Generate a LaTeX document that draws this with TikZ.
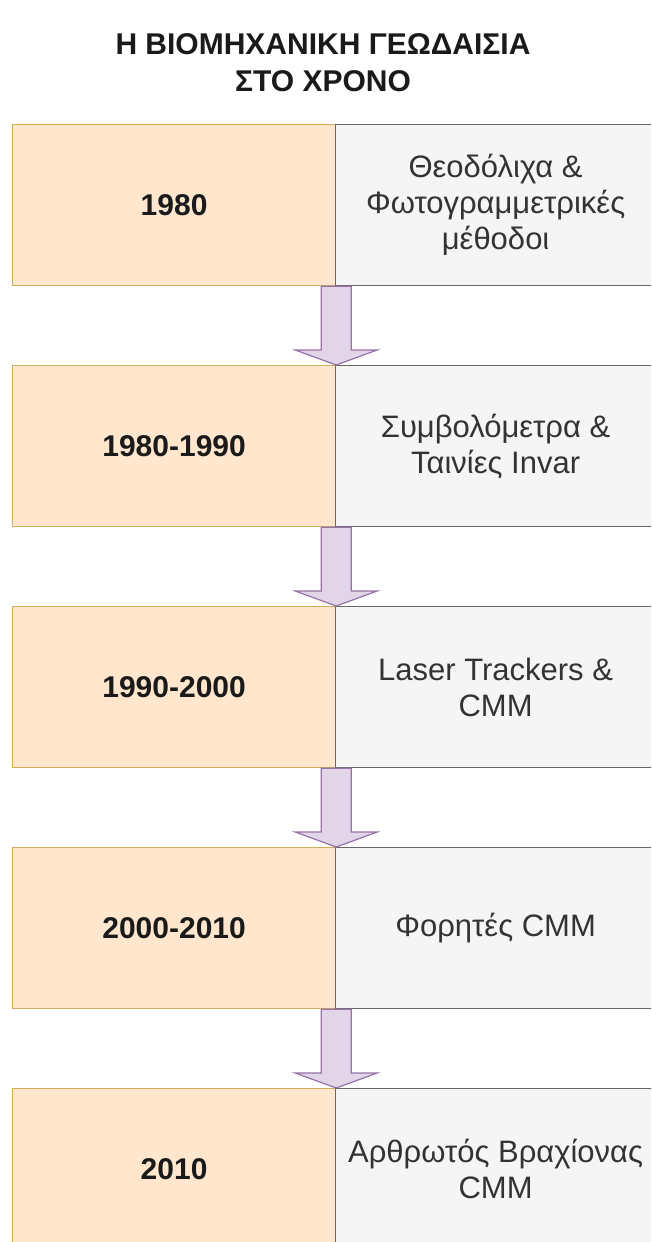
\documentclass[tikz,border=0pt]{standalone}
\usepackage{fontspec}
\setmainfont{Liberation Sans}
\usetikzlibrary{calc}
\definecolor{orfill}{HTML}{FFE6CC}
\definecolor{ordraw}{HTML}{D0AE5C}
\definecolor{grfill}{HTML}{F5F5F5}
\definecolor{grdraw}{HTML}{666666}
\definecolor{grtext}{HTML}{333333}
\definecolor{yrtext}{HTML}{1A1A1A}
\definecolor{arfill}{HTML}{E1D5E7}
\definecolor{ardraw}{HTML}{9673A6}
\begin{document}
\begin{tikzpicture}[x=1pt,y=-1pt,
  yearbox/.style={draw=ordraw, fill=orfill, line width=1.2pt, minimum width=323pt,
    minimum height=161pt, inner sep=0pt, anchor=north west,
    font=\fontsize{30}{36}\selectfont\bfseries, text=yrtext},
  descbox/.style={draw=grdraw, fill=grfill, line width=1.2pt, minimum width=320pt,
    minimum height=161pt, inner sep=0pt, anchor=north west, align=center,
    font=\fontsize{31}{36}\selectfont, text=grtext},
  titletext/.style={align=center, font=\fontsize{30}{37}\selectfont\bfseries, text=yrtext},
  blockarrow/.style={draw=ardraw, fill=arfill, line width=1.2pt, line join=miter}]
\useasboundingbox (0,0) rectangle (651,1242);
\clip (0,0) rectangle (651,1242);
\fill[white] (0,0) rectangle (651,1242);

\node[titletext] (title) at (323,63) {Η ΒΙΟΜΗΧΑΝΙΚΗ ΓΕΩΔΑΙΣΙΑ\\ΣΤΟ ΧΡΟΝΟ};

\node[yearbox] (y1) at (12,124) {1980};
\node[descbox] (d1) at (335,124) {Θεοδόλιχα \&\\Φωτογραμμετρικές\\μέθοδοι};
\node[yearbox] (y2) at (12,365) {1980-1990};
\node[descbox] (d2) at (335,365) {Συμβολόμετρα \&\\Ταινίες Invar};
\node[yearbox] (y3) at (12,606) {1990-2000};
\node[descbox] (d3) at (335,606) {Laser Trackers \&\\CMM};
\node[yearbox] (y4) at (12,847) {2000-2010};
\node[descbox] (d4) at (335,847) {Φορητές CMM};
\node[yearbox] (y5) at (12,1088) {2010};
\node[descbox] (d5) at (335,1088) {Αρθρωτός Βραχίονας\\CMM};

\foreach \a/\b in {y1/y2,y2/y3,y3/y4,y4/y5}{
  \path let \p1=(\a.south east), \p2=(\b.north east) in
    [blockarrow] (\x1-15pt,\y1) -- (\x1-15pt,\y2+15pt) -- (\x1-41pt,\y2+15pt)
    -- (\x2,\y2) -- (\x1+41pt,\y2+15pt) -- (\x1+15pt,\y2+15pt) -- (\x1+15pt,\y1) -- cycle;
}
\end{tikzpicture}
\end{document}
